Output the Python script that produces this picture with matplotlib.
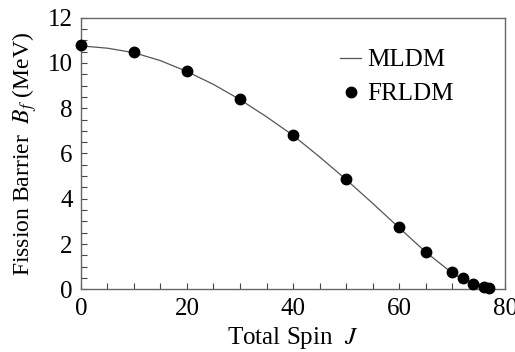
import matplotlib
matplotlib.use("Agg")
import matplotlib.pyplot as plt
from matplotlib.ticker import MultipleLocator

# Fission barrier vs total spin
spin_mldm = [0, 5, 10, 15, 20, 25, 30, 35, 40, 45, 50, 55, 60, 65, 70, 72, 74, 76, 77]
barrier_mldm = [10.75, 10.65, 10.45, 10.1, 9.62, 9.05, 8.38, 7.62, 6.8, 5.85,
                4.85, 3.8, 2.72, 1.65, 0.72, 0.45, 0.22, 0.06, 0.0]

spin_frldm = [0, 10, 20, 30, 40, 50, 60, 65, 70, 72, 74, 76, 77]
barrier_frldm = [10.79, 10.46, 9.65, 8.4, 6.81, 4.86, 2.74, 1.66, 0.75, 0.48,
                 0.23, 0.12, 0.06]

plt.rcParams["font.family"] = ["Liberation Serif", "DejaVu Serif"]
plt.rcParams["mathtext.fontset"] = "stix"

fig = plt.figure(figsize=(5.15, 3.52), dpi=100)
ax = fig.add_axes([0.157, 0.178, 0.824, 0.772])

ax.plot(spin_mldm, barrier_mldm, color="#555555", linewidth=0.9, label="MLDM")
ax.plot(spin_frldm, barrier_frldm, "o", color="black", markersize=7.5,
        label="FRLDM", clip_on=False, zorder=3)

ax.set_xlim(0, 80)
ax.set_ylim(0, 12)
ax.xaxis.set_major_locator(MultipleLocator(20))
ax.xaxis.set_minor_locator(MultipleLocator(5))
ax.yaxis.set_major_locator(MultipleLocator(2))
ax.yaxis.set_minor_locator(MultipleLocator(0.5))
ax.tick_params(which="both", direction="in", length=4, width=0.8,
               color="#444444", labelsize=18, top=False, right=False)
ax.tick_params(axis="y", pad=6)
ax.tick_params(axis="x", pad=6)

for spine in ax.spines.values():
    spine.set_color("#666666")
    spine.set_linewidth(1.0)

ax.set_xlabel("Total Spin  $J$", fontsize=18, labelpad=4)
ax.set_ylabel("Fission Barrier  $B_f$ (MeV)", fontsize=17, labelpad=6)

ax.legend(loc="upper left", bbox_to_anchor=(340 / 515, 1 - 49 / 352),
          bbox_transform=fig.transFigure, frameon=False, fontsize=18,
          handlelength=0.85, handletextpad=0.25, borderpad=0, borderaxespad=0,
          labelspacing=0.45)

fig.savefig("out.png", dpi=100)
